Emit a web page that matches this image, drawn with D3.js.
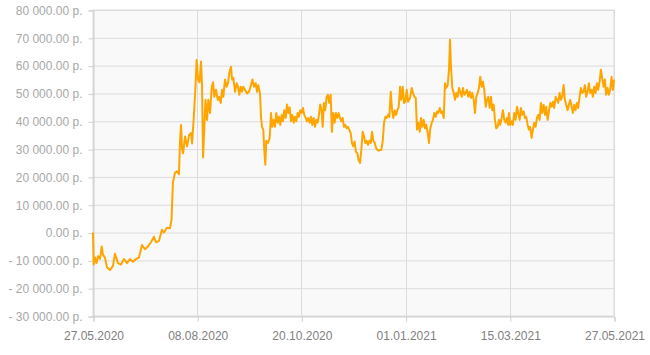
<!DOCTYPE html>
<html>
<head>
<meta charset="utf-8">
<script src="https://cdn.jsdelivr.net/npm/d3@7"></script>
<style>
  body { margin: 0; background: #fff; }
  svg text { font-family: "Liberation Sans", Arial, sans-serif; font-size: 12px; }
</style>
</head>
<body>
<div id="chart"></div>
<script>
// start date and x tick labels
const startDate = "2020-05-27";
const xTickLabels = ["27.05.2020", "08.08.2020", "20.10.2020", "01.01.2021", "15.03.2021", "27.05.2021"];
const yTickValues = [-30000, -20000, -10000, 0, 10000, 20000, 30000, 40000, 50000, 60000, 70000, 80000];

// days since start date
const days = [
  0, 0.5, 1.4, 2.5, 3.5, 4.9, 6.1, 7.0, 8.4, 9.8, 11.9, 14.0, 15.4, 17.5, 19.6, 21.7, 23.8, 25.9, 28.0, 30.1,
  32.2, 34.3, 36.4, 38.5, 40.6, 42.7, 44.1, 46.2, 48.3, 49.7, 51.8, 53.9, 55.0, 56.0, 57.4, 58.8, 60.2, 61.0, 61.7, 62.4,
  63.1, 64.5, 65.9, 67.3, 68.7, 69.4, 70.8, 71.8, 72.6, 73.6, 74.6, 75.7, 76.4, 77.1, 78.0, 78.8, 79.9, 80.8, 82.0, 83.2,
  84.1, 85.0, 86.2, 87.4, 88.3, 89.5, 90.4, 91.3, 92.5, 93.7, 94.6, 95.5, 96.7, 97.4, 98.3, 99.5, 100.7, 101.6, 102.5, 103.5,
  104.4, 105.3, 106.5, 107.9, 109.3, 110.7, 111.7, 112.8, 114.0, 114.9, 115.8, 117.0, 117.7, 118.4, 119.3, 120.0, 120.7, 121.4, 122.6, 123.8,
  124.7, 125.6, 126.6, 127.5, 128.4, 129.4, 130.3, 131.2, 132.2, 133.1, 134.0, 135.0, 135.9, 136.8, 137.8, 138.7, 139.6, 140.6, 141.5, 142.4,
  143.4, 144.3, 145.2, 146.2, 147.1, 148.0, 149.0, 149.9, 150.8, 151.8, 152.7, 153.6, 154.6, 155.5, 156.4, 157.4, 158.3, 159.2, 160.2, 160.9,
  161.8, 162.7, 163.7, 164.6, 165.5, 166.5, 167.4, 168.3, 169.3, 170.2, 171.1, 172.1, 173.0, 173.9, 174.9, 175.8, 176.7, 177.7, 178.6, 179.5,
  180.5, 181.4, 182.3, 183.3, 184.2, 185.2, 186.1, 187.1, 188.0, 188.9, 189.9, 190.8, 191.7, 192.7, 193.6, 194.6, 195.5, 196.4, 197.4, 198.3,
  199.2, 200.2, 201.1, 202.0, 203.0, 203.9, 204.8, 205.8, 206.7, 207.6, 208.6, 209.5, 210.4, 211.4, 212.3, 213.2, 214.2, 215.1, 216.0, 217.0,
  217.9, 218.8, 219.8, 220.7, 222.1, 223.3, 224.2, 225.1, 226.1, 227.0, 227.9, 228.9, 229.8, 230.7, 231.7, 232.6, 233.5, 234.5, 235.4, 236.3,
  237.3, 238.2, 239.1, 240.1, 241.0, 241.9, 242.9, 243.8, 244.7, 245.7, 246.6, 247.5, 248.5, 249.4, 250.1, 250.8, 251.7, 252.7, 253.6, 254.5,
  255.5, 256.4, 257.3, 258.3, 259.2, 260.1, 261.1, 262.0, 262.9, 263.9, 264.8, 265.7, 266.7, 267.6, 268.5, 269.5, 270.4, 271.3, 272.3, 273.2,
  274.1, 275.1, 276.0, 276.9, 277.9, 278.8, 279.7, 280.7, 281.6, 282.5, 283.5, 284.4, 285.3, 286.3, 287.2, 288.1, 289.1, 290.0, 290.9, 291.4,
  292.3, 293.3, 294.2, 295.1, 296.1, 297.0, 297.9, 298.9, 299.8, 300.7, 301.7, 302.6, 303.5, 304.5, 305.4, 306.3, 307.3, 308.2, 309.1, 310.1,
  311.0, 311.9, 312.9, 313.8, 314.7, 315.7, 316.6, 317.5, 318.5, 319.4, 320.3, 321.3, 322.2, 323.1, 324.1, 325.0, 325.9, 326.9, 327.8, 328.7,
  329.7, 330.6, 331.5, 332.5, 333.4, 334.3, 335.3, 336.2, 337.1, 338.1, 339.0, 339.9, 340.9, 341.8, 342.7, 343.7, 344.6, 345.5, 346.5, 347.4,
  348.3, 349.3, 350.2, 351.1, 352.1, 353.0, 353.9, 354.9, 355.8, 356.7, 357.7, 358.6, 359.5, 360.5, 361.4, 362.3, 363.3, 364.2, 365.0
];

// values in thousands of roubles
const values = [
  0, -11.5, -9, -11, -8.5, -9.5, -5, -8, -9, -12.5, -13.5, -12, -7.6, -11, -11.5, -9.5, -11, -9.5, -10.5, -9.5,
  -9, -4.5, -6, -5, -3.5, -1.5, -3.5, -3, 1, 0, 1.7, 1.5, 4.5, 18, 21.5, 22, 21, 33, 38.7, 30,
  28.5, 34.5, 31, 35, 35.8, 32, 43, 52.4, 62, 55, 54, 61.5, 52.5, 27, 38, 47.7, 40.5, 47.7, 43, 52.4,
  54, 48.8, 51.3, 47.7, 48.8, 46.6, 51.3, 48.8, 55, 52.4, 53.7, 57.5, 59.6, 55, 55.6, 50.6, 53.7, 52.4, 49.5, 52.4,
  50.6, 52.4, 51.3, 50, 50.6, 53, 55, 52.4, 53.7, 50.6, 53, 50, 41.6, 38, 37, 29.8, 24.4, 33, 32.2, 34,
  43, 38, 40.5, 38, 43, 39.5, 41.6, 38.7, 42.3, 40, 44, 41.2, 46, 43, 45, 40, 42.3, 39.5, 41.6, 40,
  43, 41.6, 44, 43, 44.8, 42.3, 41.2, 40, 41.2, 39.5, 41.6, 38.7, 41.2, 38, 40.5, 39.5, 42.3, 46, 44, 38,
  46.6, 44, 48.8, 49.5, 46.6, 49.5, 36.2, 43, 39.5, 43, 41.2, 43, 41.2, 40, 41.2, 38, 38.7, 37.5, 38, 37,
  35.8, 32.2, 31, 32.7, 29, 28.5, 26, 25, 29.7, 36.2, 34.5, 32.2, 33, 31.5, 33, 32.2, 36.2, 33, 32.2, 30.4,
  29.7, 29.4, 29.7, 29.7, 33, 39.5, 41.6, 41.2, 42.3, 41.6, 50.6, 44, 41.2, 44, 42.3, 44, 45.2, 52.4, 47.7, 52.4,
  46.6, 47, 51.3, 47, 48.4, 52, 50.2, 48.8, 48.4, 37, 39.5, 36.2, 41.2, 38, 40.5, 37.5, 38.7, 35.8, 32.2, 37.5,
  39.5, 40.5, 43, 41.6, 43.5, 43, 44.8, 43, 43.5, 41.2, 53.7, 52, 53, 58.5, 69.3, 59.6, 52, 50.2, 47.7, 50.2,
  48.8, 52, 50.6, 48.8, 52, 49.5, 50.2, 51.3, 48.8, 50.6, 48.4, 50.2, 47.7, 43, 48.8, 50.2, 52, 56, 52.4, 54.2,
  51.3, 45.2, 47.7, 48.8, 44.8, 48.8, 44, 46, 40.5, 37.5, 38, 40.5, 38.7, 41.2, 44, 40.5, 39.5, 41.2, 38.7, 43,
  38.7, 40, 38.7, 43, 40.5, 45.2, 43, 40.5, 44.8, 42.3, 43.5, 41.2, 41.6, 38.7, 37, 38, 34, 37, 39.5, 38,
  41.2, 42.3, 40.5, 46.6, 43, 45.9, 42.3, 45.2, 40.5, 43.5, 46.6, 45.2, 47, 44.8, 48.8, 47.7, 46.6, 50.2, 47.7, 48.8,
  53, 47.7, 45.9, 44, 45.9, 47.7, 45.2, 43, 45.9, 44, 46.6, 44.8, 48.8, 52, 50.2, 50.6, 53, 48.8, 50.6, 53.7,
  50.2, 51.3, 48.8, 52.4, 50.2, 53.7, 51.3, 54.2, 58.5, 55.6, 52.4, 55, 49.5, 52, 49.5, 51.3, 56, 51.3, 55
];

const width = 650, height = 355;
const margin = { top: 10, right: 36, bottom: 39, left: 93 };

const svg = d3.select("#chart")
  .append("svg")
  .attr("width", width)
  .attr("height", height);

const parse = d3.utcParse("%Y-%m-%d");
const start = parse(startDate);
const fmt = d3.utcFormat("%d.%m.%Y");
const tickDates = xTickLabels.map(s => d3.utcParse("%d.%m.%Y")(s));

const x = d3.scaleUtc()
  .domain([start, d3.utcDay.offset(start, 365)])
  .range([margin.left, width - margin.right]);

const y = d3.scaleLinear()
  .domain([-30000, 80000])
  .range([height - margin.bottom, margin.top]);

const data = days.map((d, i) => ({
  date: new Date(start.getTime() + d * 864e5),
  value: values[i] * 1000
}));

// plot background
svg.append("rect")
  .attr("x", margin.left)
  .attr("y", margin.top)
  .attr("width", width - margin.left - margin.right)
  .attr("height", height - margin.top - margin.bottom)
  .attr("fill", "#f9f9f9")
  .attr("stroke", "#dcdcdc");

// horizontal grid
svg.append("g")
  .selectAll("line")
  .data(yTickValues)
  .join("line")
  .attr("x1", margin.left)
  .attr("x2", width - margin.right)
  .attr("y1", d => y(d) + 0.5)
  .attr("y2", d => y(d) + 0.5)
  .attr("stroke", "#dcdcdc");

// vertical grid
svg.append("g")
  .selectAll("line")
  .data(tickDates)
  .join("line")
  .attr("x1", d => Math.round(x(d)) + 0.5)
  .attr("x2", d => Math.round(x(d)) + 0.5)
  .attr("y1", margin.top)
  .attr("y2", height - margin.bottom)
  .attr("stroke", "#dcdcdc");

// number format like "- 10 000.00 р."
function money(v) {
  const s = d3.format(",.2f")(Math.abs(v)).replace(/,/g, " ");
  return (v < 0 ? "- " : "") + s + " р.";
}

// y axis
const yAxis = svg.append("g")
  .attr("transform", `translate(${margin.left + 0.5},0.5)`)
  .call(d3.axisLeft(y).tickValues(yTickValues).tickSize(5).tickPadding(6).tickFormat(money));
yAxis.select(".domain").attr("stroke", "#cfcfcf");
yAxis.selectAll(".tick line").attr("stroke", "#cfcfcf");
yAxis.selectAll(".tick text").attr("fill", "#a8a8a8").style("font-size", "12px");

// x axis
const xAxis = svg.append("g")
  .attr("transform", `translate(0.5,${height - margin.bottom + 0.5})`)
  .call(d3.axisBottom(x).tickValues(tickDates).tickSize(5).tickPadding(10).tickFormat(fmt));
xAxis.select(".domain").attr("stroke", "#cfcfcf");
xAxis.selectAll(".tick line").attr("stroke", "#cfcfcf");
xAxis.selectAll(".tick text").attr("fill", "#808080").style("font-size", "12px");

// line
const line = d3.line()
  .x(d => x(d.date))
  .y(d => y(d.value));

svg.append("path")
  .datum(data)
  .attr("d", line)
  .attr("fill", "none")
  .attr("stroke", "#ffa500")
  .attr("stroke-width", 2)
  .attr("stroke-linejoin", "round");
</script>
</body>
</html>
